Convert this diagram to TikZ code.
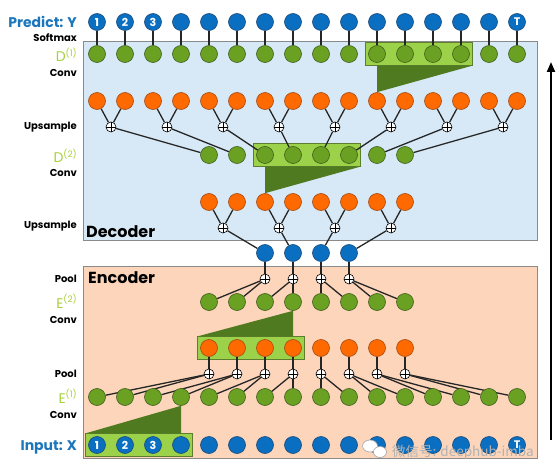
\documentclass[tikz,border=0pt]{standalone}
\usepackage{fontspec}
\setmainfont{Poppins}
\newfontfamily\cjkfont{Noto Sans CJK SC}
\usetikzlibrary{fit,arrows.meta,calc}
\pgfdeclarelayer{panel}
\pgfdeclarelayer{edges}
\pgfsetlayers{panel,edges,main}
\definecolor{cblue}{HTML}{0B6FC1}
\definecolor{cblueD}{HTML}{1B4B7A}
\definecolor{cgreen}{HTML}{6BA123}
\definecolor{cgreenD}{HTML}{3F5F1C}
\definecolor{corange}{HTML}{FF6A00}
\definecolor{corangeD}{HTML}{A44A12}
\definecolor{chl}{HTML}{9CD14A}
\definecolor{chlD}{HTML}{5E7D2E}
\definecolor{ctri}{HTML}{4F7A1F}
\definecolor{decfill}{HTML}{D7E9F6}
\definecolor{encfill}{HTML}{FCD5BA}
\definecolor{panelD}{HTML}{8A8A8A}
\definecolor{lblue}{HTML}{1C76BC}
\definecolor{lgreen}{HTML}{A8CF3A}
\begin{document}
\begin{tikzpicture}[x=1pt,y=-1pt,
  neuron/.style={circle, minimum size=17pt, inner sep=0pt, line width=0.6pt},
  bluen/.style={neuron, fill=cblue, draw=cblueD},
  greenn/.style={neuron, fill=cgreen, draw=cgreenD},
  orangen/.style={neuron, fill=corange, draw=corangeD},
  plusn/.style={circle, draw=black, fill=white, minimum size=10pt, inner sep=0pt, line width=0.6pt,
    path picture={\draw[line width=0.6pt] (path picture bounding box.north) -- (path picture bounding box.south)
      (path picture bounding box.west) -- (path picture bounding box.east);}},
  conn/.style={line width=1.3pt, draw=black!85},
  hlbox/.style={rectangle, fill=chl, draw=chlD, line width=0.6pt, inner sep=2.5pt},
  tri/.style={fill=ctri},
  numlbl/.style={text=white, inner sep=0pt, font=\bfseries\fontsize{11}{11}\selectfont},
  sidelbl/.style={anchor=base east, inner sep=0pt, font=\bfseries\fontsize{10}{12}\selectfont},
  biglbl/.style={anchor=base east, inner sep=0pt, text=lblue, font=\bfseries\fontsize{14}{14}\selectfont},
  layerlbl/.style={anchor=base east, inner sep=0pt, text=lgreen, font=\fontsize{14}{14}\selectfont},
  panellbl/.style={anchor=base west, inner sep=0pt, font=\bfseries\fontsize{16}{16}\selectfont},
  wm/.style={anchor=base west, inner sep=0pt, text=black!30, font=\cjkfont\fontsize{13.5}{14}\selectfont}
]
\useasboundingbox (0,0) rectangle (560,476);

% panels
\begin{pgfonlayer}{panel}
\draw[fill=decfill, draw=panelD, line width=0.8pt] (83,41) rectangle (537,240);
\draw[fill=encfill, draw=panelD, line width=0.8pt] (83,266) rectangle (537,458);
\end{pgfonlayer}

% full rows
\foreach \i in {0,...,15} {
  \pgfmathsetmacro\xx{97+28*\i}
  \node[bluen] (y-\i) at (\xx,22) {};
  \node[greenn] (d1-\i) at (\xx,54) {};
  \node[orangen] (o1-\i) at (\xx,101) {};
  \node[greenn] (e1-\i) at (\xx,397) {};
  \node[bluen] (in-\i) at (\xx,445) {};
}
\foreach \k in {0,...,7} \node[plusn] (p1-\k) at ({111+56*\k},127) {};
\foreach \c in {4,...,11} {
  \pgfmathsetmacro\xx{97+28*\c}
  \node[greenn] (d2-\c) at (\xx,155) {};
  \node[orangen] (o2-\c) at (\xx,202) {};
  \node[greenn] (e2-\c) at (\xx,302) {};
  \node[orangen] (eo-\c) at (\xx,348) {};
  \node[plusn] (p4-\c) at (\xx,374) {};
}
\foreach \k in {0,...,3} \node[plusn] (p2-\k) at ({223+56*\k},228) {};
\foreach \c in {6,...,9} {
  \pgfmathsetmacro\xx{97+28*\c}
  \node[bluen] (m-\c) at (\xx,253) {};
  \node[plusn] (p3-\c) at (\xx,279) {};
}

% numbers in circles
\node[numlbl] (yl-0) at (y-0) {1};
\node[numlbl] (yl-1) at (y-1) {2};
\node[numlbl] (yl-2) at (y-2) {3};
\node[numlbl] (yl-15) at (y-15) {T};
\node[numlbl] (il-0) at (in-0) {1};
\node[numlbl] (il-1) at (in-1) {2};
\node[numlbl] (il-2) at (in-2) {3};
\node[numlbl] (il-15) at (in-15) {T};

% highlight boxes, triangles, connectors
\begin{pgfonlayer}{edges}
\node[hlbox, fit=(d1-10)(d1-13)] (hb1) {};
\node[hlbox, fit=(d2-6)(d2-9)] (hb2) {};
\node[hlbox, fit=(eo-4)(eo-7)] (hb3) {};
\node[hlbox, fit=(in-0)(in-3)] (hb4) {};
\fill[tri] (hb1.south -| o1-10) -- (hb1.south east) -- (o1-10.north) -- cycle;
\fill[tri] (hb2.south -| o2-6) -- (hb2.south east) -- (o2-6.north) -- cycle;
\fill[tri] (e2-7.south) -- (hb3.north west) -- (hb3.north -| e2-7) -- cycle;
\fill[tri] (e1-3.south) -- (hb4.north west) -- (hb4.north -| e1-3) -- cycle;

\foreach \i in {0,...,15} \draw[conn] (y-\i) -- (d1-\i);
\foreach \k in {0,...,7} {
  \pgfmathtruncatemacro\a{2*\k}
  \pgfmathtruncatemacro\b{2*\k+1}
  \pgfmathtruncatemacro\g{4+\k}
  \draw[conn] (o1-\a) -- (p1-\k);
  \draw[conn] (o1-\b) -- (p1-\k);
  \draw[conn] (p1-\k) -- (d2-\g);
}
\foreach \k in {0,...,3} {
  \pgfmathtruncatemacro\a{4+2*\k}
  \pgfmathtruncatemacro\b{5+2*\k}
  \pgfmathtruncatemacro\g{6+\k}
  \draw[conn] (o2-\a) -- (p2-\k);
  \draw[conn] (o2-\b) -- (p2-\k);
  \draw[conn] (p2-\k) -- (m-\g);
}
\foreach \c in {6,...,9} {
  \pgfmathtruncatemacro\a{2*\c-8}
  \pgfmathtruncatemacro\b{2*\c-7}
  \draw[conn] (m-\c) -- (p3-\c);
  \draw[conn] (p3-\c) -- (e2-\a);
  \draw[conn] (p3-\c) -- (e2-\b);
}
\foreach \c in {4,...,11} {
  \pgfmathtruncatemacro\a{2*\c-8}
  \pgfmathtruncatemacro\b{2*\c-7}
  \draw[conn] (eo-\c) -- (p4-\c);
  \draw[conn] (p4-\c) -- (e1-\a);
  \draw[conn] (p4-\c) -- (e1-\b);
}
\end{pgfonlayer}

% side labels
\node[biglbl] (t-pred) at (77,28) {Predict: Y};
\node[sidelbl] (t-soft) at (77,42) {Softmax};
\node[layerlbl] (t-d1) at (77,62) {D\raisebox{0.42em}{\fontsize{9}{9}\selectfont(1)}};
\node[sidelbl] (t-conv1) at (77,77) {Conv};
\node[sidelbl] (t-up1) at (77,130) {Upsample};
\node[layerlbl] (t-d2) at (77,163) {D\raisebox{0.42em}{\fontsize{9}{9}\selectfont(2)}};
\node[sidelbl] (t-conv2) at (77,177) {Conv};
\node[sidelbl] (t-up2) at (77,229) {Upsample};
\node[sidelbl] (t-pool1) at (77,282) {Pool};
\node[layerlbl] (t-e2) at (77,308) {E\raisebox{0.42em}{\fontsize{9}{9}\selectfont(2)}};
\node[sidelbl] (t-conv3) at (77,323) {Conv};
\node[sidelbl] (t-pool2) at (77,377) {Pool};
\node[layerlbl] (t-e1) at (77,403) {E\raisebox{0.42em}{\fontsize{9}{9}\selectfont(1)}};
\node[sidelbl] (t-conv4) at (77,418) {Conv};
\node[biglbl] (t-in) at (77,450) {Input: X};

\node[panellbl] (t-dec) at (86,237) {Decoder};
\node[panellbl] (t-enc) at (88,283) {Encoder};

% arrow
\coordinate (arrb) at (551,440);
\coordinate (arrt) at (551,62);
\draw[line width=2pt, -{Triangle[length=10pt,width=8pt]}] (arrb) -- (arrt);

% watermark
\draw[fill=white, draw=black!35, line width=0.6pt] (370,446) ellipse [x radius=7.5pt, y radius=6pt];
\draw[fill=white, draw=black!35, line width=0.6pt] (380,452) ellipse [x radius=6.5pt, y radius=5.5pt];
\node[wm] (t-wm) at (392,456) {微信号: deephub-imba};
\end{tikzpicture}
\end{document}
